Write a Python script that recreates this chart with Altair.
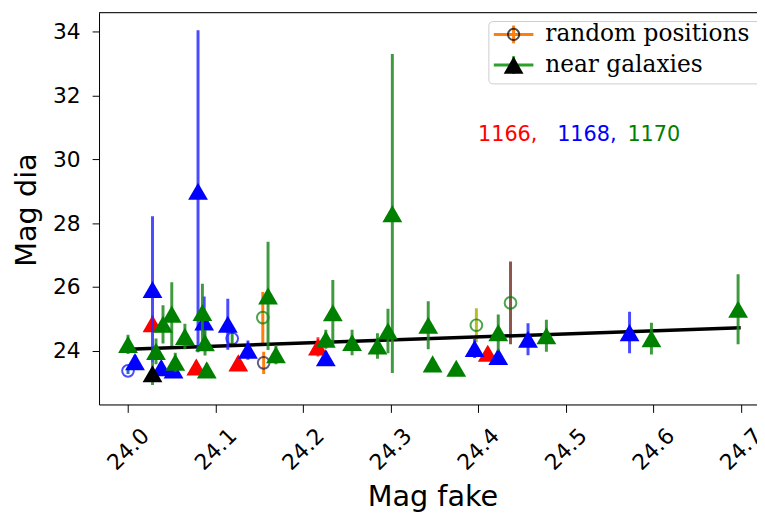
import altair as alt
import pandas as pd

# ---------------- data ----------------
# near galaxies, field 1166 (red)
red_x = [24.028, 24.078, 24.126, 24.217, 24.411]
red_y = [24.85, 23.49, 23.62, 24.12, 23.92]
red_err = [0.25, 0.2, 0.2, 0.3, 0.2]

# near galaxies, field 1168 (blue)
blue_x = [24.008, 24.028, 24.038, 24.052, 24.080, 24.087, 24.114, 24.137,
          24.226, 24.396, 24.423, 24.457, 24.573]
blue_y = [23.66, 25.92, 23.47, 23.40, 29.00, 24.90, 24.83, 24.02,
          23.78, 24.07, 23.82, 24.36, 24.57]
blue_err = [0.2, 2.3, 0.2, 0.2, 5.05, 0.8, 0.8, 0.3,
            0.2, 0.3, 0.2, 0.5, 0.65]

# near galaxies, field 1170 (green)
green_x = [24.000, 24.032, 24.040, 24.050, 24.054, 24.065, 24.085, 24.088,
           24.090, 24.160, 24.169, 24.226, 24.234, 24.256, 24.285, 24.297,
           24.302, 24.343, 24.348, 24.375, 24.423, 24.478, 24.598, 24.697]
green_y = [24.20, 23.98, 24.83, 25.15, 23.64, 24.45, 25.20, 24.25,
           23.40, 25.72, 23.88, 24.36, 25.19, 24.26, 24.15, 24.62,
           28.30, 24.80, 23.59, 23.45, 24.57, 24.47, 24.38, 25.30]
green_err = [0.3, 0.4, 0.6, 1.0, 0.3, 0.4, 0.9, 0.4,
             0.2, 1.7, 0.3, 0.3, 1.03, 0.4, 0.4, 0.7,
             5.0, 0.75, 0.1, 0.1, 0.57, 0.5, 0.5, 1.1]

# near galaxies, unlabelled black marker
black_x = [24.028]
black_y = [23.28]
black_err = [0.35]

# random positions (hollow circles)
rp_x = [24.000, 24.119, 24.154, 24.155, 24.398, 24.437]
rp_y = [23.37, 24.38, 25.04, 23.62, 24.80, 25.50]
rp_err = [0.1, 0.25, 0.8, 0.35, 0.53, 1.3]
rp_edge = ["1168", "1168", "1170", "dark", "1170", "1170"]
rp_bar = ["C0", "C2", "C1", "C1", "C8", "C5"]

# fitted line
fit_x = [24.0, 24.7]
fit_y = [24.05, 24.72]

x_ticks = [24.0, 24.1, 24.2, 24.3, 24.4, 24.5, 24.6, 24.7]
y_ticks = [24, 26, 28, 30, 32, 34]

legend_labels = ["random positions", "near galaxies"]
note_parts = ["1166,", "1168,", "1170"]

# ---------------- styles ----------------
FIELD_COLOR = {"1166": "#ff0000", "1168": "#0000ff", "1170": "#008000",
               "black": "#000000", "dark": "#1c1c50"}
FIELD_BAR = {"1166": "#ff2020", "1168": "#2a2aff", "1170": "#1f8a1f",
             "black": "#1f8a1f"}
CYCLE = {"C0": "#1f77b4", "C1": "#ff7f0e", "C2": "#2ca02c", "C5": "#8c564b",
         "C8": "#bcbd22"}

W, H = 665, 396
xs = alt.Scale(domain=[23.9669, 24.7186], nice=False, zero=False)
ys = alt.Scale(domain=[22.316, 34.599], nice=False, zero=False)

def series(xv, yv, ev, field):
    return pd.DataFrame({
        "x": xv, "y": yv,
        "lo": [a - b for a, b in zip(yv, ev)],
        "hi": [a + b for a, b in zip(yv, ev)],
        "mc": FIELD_COLOR[field], "bc": FIELD_BAR[field],
    })

x_axis = alt.Axis(values=x_ticks, format=".1f", labelAngle=-45, labelAlign="center",
                  labelBaseline="middle", labelPadding=37, tickSize=8,
                  labelFontSize=22, labelFont="DejaVu Sans", labelColor="#000",
                  tickColor="#000", domainColor="#000", grid=False,
                  title="Mag fake", titleFontSize=29, titleFont="DejaVu Sans",
                  titleFontWeight="normal", titleColor="#000",
                  titleX=337, titleY=102, titleAlign="center",
                  titleBaseline="alphabetic", labelFlush=False)
y_axis = alt.Axis(values=y_ticks, format="d", tickSize=7, labelPadding=12,
                  labelFontSize=22, labelFont="DejaVu Sans", labelColor="#000",
                  tickColor="#000", domainColor="#000", grid=False,
                  title="Mag dia", titleFontSize=29, titleFont="DejaVu Sans",
                  titleFontWeight="normal", titleColor="#000",
                  titleX=-64, titleY=199, titleAngle=270, titleAlign="center",
                  titleBaseline="alphabetic")

layers = []

# random positions
rp = pd.DataFrame({
    "x": rp_x, "y": rp_y,
    "lo": [a - b for a, b in zip(rp_y, rp_err)],
    "hi": [a + b for a, b in zip(rp_y, rp_err)],
    "ec": [FIELD_COLOR[e] for e in rp_edge],
    "bc": [CYCLE[c] for c in rp_bar],
})
layers.append(alt.Chart(rp).mark_rule(strokeWidth=3, clip=True).encode(
    x=alt.X("x:Q", scale=xs, axis=x_axis),
    y=alt.Y("lo:Q", scale=ys, axis=y_axis), y2="hi:Q",
    color=alt.Color("bc:N", scale=None)))
layers.append(alt.Chart(rp).mark_point(shape="circle", size=140, strokeWidth=2,
                                       filled=False, clip=True).encode(
    x=alt.X("x:Q", scale=xs), y=alt.Y("y:Q", scale=ys),
    color=alt.Color("ec:N", scale=None)))

# fit line
fit = pd.DataFrame({"x": fit_x, "y": fit_y})
layers.append(alt.Chart(fit).mark_line(color="#000", strokeWidth=3.5, clip=True).encode(
    x=alt.X("x:Q", scale=xs), y=alt.Y("y:Q", scale=ys)))

for xv, yv, ev, f in [(red_x, red_y, red_err, "1166"),
                      (blue_x, blue_y, blue_err, "1168"),
                      (green_x, green_y, green_err, "1170"),
                      (black_x, black_y, black_err, "black")]:
    d = series(xv, yv, ev, f)
    layers.append(alt.Chart(d).mark_rule(strokeWidth=3, opacity=0.85, clip=True).encode(
        x=alt.X("x:Q", scale=xs), y=alt.Y("lo:Q", scale=ys), y2="hi:Q",
        color=alt.Color("bc:N", scale=None)))
    layers.append(alt.Chart(d).mark_point(shape="triangle-up", size=400, filled=True,
                                          opacity=1, clip=True).encode(
        x=alt.X("x:Q", scale=xs), y=alt.Y("y:Q", scale=ys),
        color=alt.Color("mc:N", scale=None)))

# top spine
one = pd.DataFrame({"k": [0]})
layers.append(alt.Chart(one).mark_rule(color="#000", strokeWidth=1).encode(
    x=alt.value(0), x2=alt.value(W + 20), y=alt.value(0)))

# annotation
for txt, col, px in zip(note_parts, ["#ff0000", "#0000ff", "#008000"], [383, 463, 534]):
    layers.append(alt.Chart(one).mark_text(text=txt, color=col, fontSize=21,
                                           font="DejaVu Sans", align="left",
                                           baseline="alphabetic").encode(
        x=alt.value(px), y=alt.value(130)))

# legend
layers.append(alt.Chart(one).mark_rect(fill="#ffffff", fillOpacity=0.8, stroke="#cccccc",
                                       strokeWidth=1, cornerRadius=4).encode(
    x=alt.value(394), x2=alt.value(W + 40), y=alt.value(9), y2=alt.value(72)))
rows = [(22, "#ff7f0e", "circle", "#000000", False, 130),
        (53, "#2ca02c", "triangle-up", "#000000", True, 400)]
for (ry, lc, shp, mc, fill, sz), lab in zip(rows, legend_labels):
    layers.append(alt.Chart(one).mark_rule(color=lc, strokeWidth=3).encode(
        x=alt.value(399), x2=alt.value(439), y=alt.value(ry)))
    layers.append(alt.Chart(one).mark_rule(color=lc, strokeWidth=3).encode(
        x=alt.value(419), y=alt.value(ry - 9), y2=alt.value(ry + 9)))
    if fill:
        layers.append(alt.Chart(one).mark_point(shape=shp, size=sz, filled=True,
                                                color=mc, opacity=1).encode(
            x=alt.value(419), y=alt.value(ry)))
    else:
        layers.append(alt.Chart(one).mark_point(shape=shp, size=sz, filled=False,
                                                color=mc, strokeWidth=2).encode(
            x=alt.value(419), y=alt.value(ry)))
    layers.append(alt.Chart(one).mark_text(text=lab, fontSize=23.5, font="DejaVu Serif",
                                           align="left", baseline="alphabetic",
                                           color="#000").encode(
        x=alt.value(451), y=alt.value(ry + 7)))

chart = alt.layer(*layers).properties(
    width=W, height=H,
    autosize=alt.AutoSizeParams(type="none"),
    padding={"left": 92, "top": 2, "right": 0, "bottom": 107},
).configure_view(stroke=None).configure(background="white")

chart.save("out.html", embed_options={"renderer": "svg", "actions": False})
